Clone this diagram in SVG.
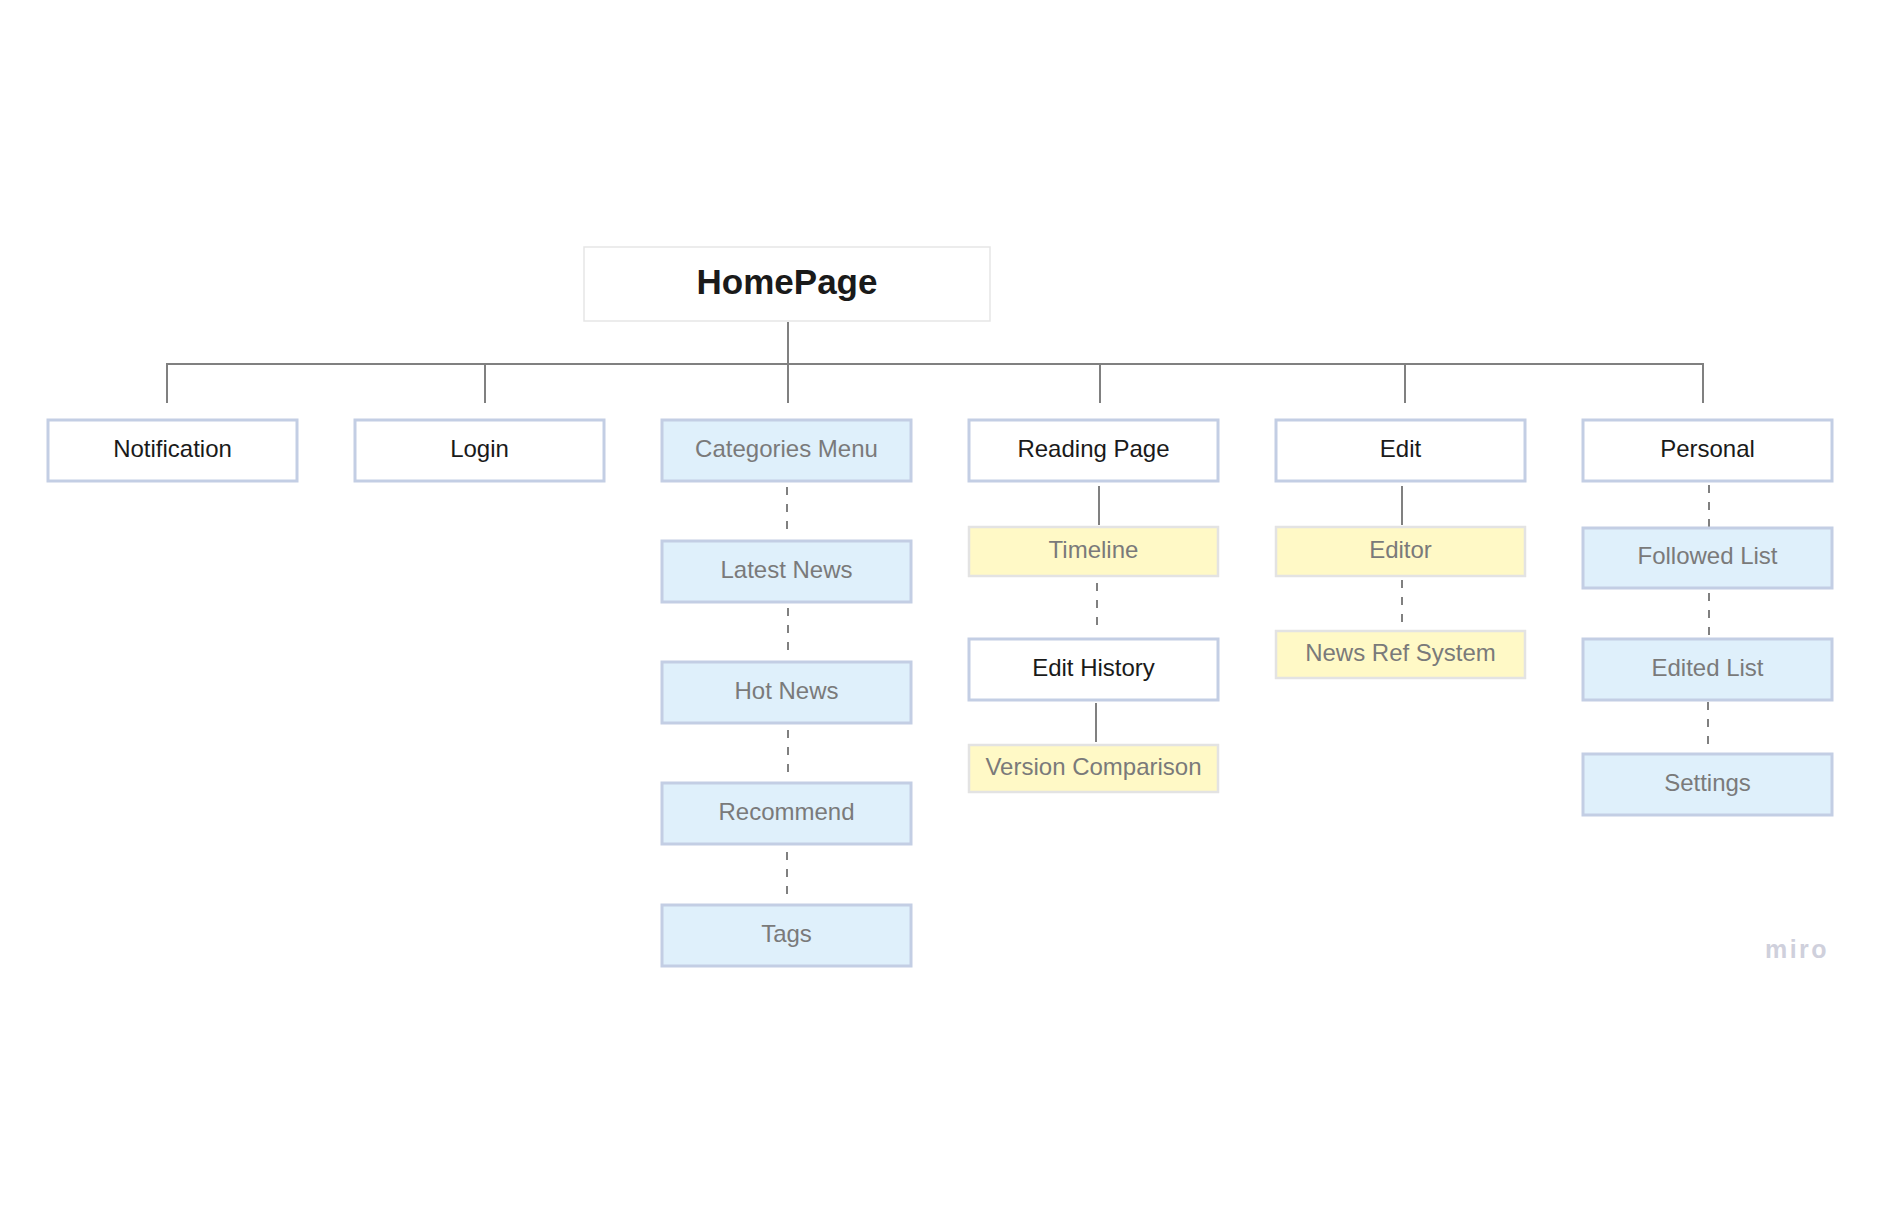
<svg xmlns="http://www.w3.org/2000/svg" width="1880" height="1210" viewBox="0 0 1880 1210">
  <style>
    .lbl { font-family: "Liberation Sans", Arial, sans-serif; font-size: 24px; text-anchor: middle; }
    .dark { fill: #1a1a1a; }
    .muted { fill: #7a7a7a; }
    .box-white { fill: #ffffff; stroke: #c3cee4; stroke-width: 3; }
    .box-blue { fill: #dff0fb; stroke: #c3cee4; stroke-width: 3; }
    .box-yellow { fill: #fff9c6; stroke: #e3e3e3; stroke-width: 2.5; }
    .solid { stroke: #808080; stroke-width: 2; fill: none; }
    .dash { stroke: #808080; stroke-width: 2; fill: none; stroke-dasharray: 8 9; }
  </style>
  <rect width="1880" height="1210" fill="#ffffff"/>

  <!-- tree connectors -->
  <g id="connectors">
    <line class="solid" x1="788" y1="322" x2="788" y2="364"/>
    <line class="solid" x1="167" y1="364" x2="1703" y2="364"/>
    <line class="solid" x1="167" y1="363" x2="167" y2="403"/>
    <line class="solid" x1="485" y1="364" x2="485" y2="403"/>
    <line class="solid" x1="788" y1="364" x2="788" y2="403"/>
    <line class="solid" x1="1100" y1="364" x2="1100" y2="403"/>
    <line class="solid" x1="1405" y1="364" x2="1405" y2="403"/>
    <line class="solid" x1="1703" y1="363" x2="1703" y2="403"/>

    <!-- Categories Menu chain -->
    <line class="dash" x1="787" y1="487" x2="787" y2="532"/>
    <line class="dash" x1="788" y1="608" x2="788" y2="653"/>
    <line class="dash" x1="788" y1="730" x2="788" y2="775"/>
    <line class="dash" x1="787" y1="852" x2="787" y2="897"/>

    <!-- Reading Page chain -->
    <line class="solid" x1="1099" y1="486" x2="1099" y2="525"/>
    <line class="dash" x1="1097" y1="583" x2="1097" y2="628"/>
    <line class="solid" x1="1096" y1="703" x2="1096" y2="742"/>

    <!-- Edit chain -->
    <line class="solid" x1="1402" y1="486" x2="1402" y2="525"/>
    <line class="dash" x1="1402" y1="580" x2="1402" y2="624"/>

    <!-- Personal chain -->
    <line class="dash" x1="1709" y1="485" x2="1709" y2="528"/>
    <line class="dash" x1="1709" y1="593" x2="1709" y2="637"/>
    <line class="dash" x1="1708" y1="702" x2="1708" y2="746"/>
  </g>

  <!-- root -->
  <g id="homepage">
    <rect x="584" y="247" width="406" height="74" fill="#ffffff" stroke="#e6e6e6" stroke-width="1.5"/>
    <text x="787" y="294" font-family="Liberation Sans, Arial, sans-serif" font-size="35" font-weight="bold" text-anchor="middle" fill="#1a1a1a">HomePage</text>
  </g>

  <!-- first level -->
  <g id="notification">
    <rect class="box-white" x="48" y="420" width="249" height="61"/>
    <text class="lbl dark" x="172.5" y="457">Notification</text>
  </g>
  <g id="login">
    <rect class="box-white" x="355" y="420" width="249" height="61"/>
    <text class="lbl dark" x="479.5" y="457">Login</text>
  </g>
  <g id="categories-menu">
    <rect class="box-blue" x="662" y="420" width="249" height="61"/>
    <text class="lbl muted" x="786.5" y="457">Categories Menu</text>
  </g>
  <g id="reading-page">
    <rect class="box-white" x="969" y="420" width="249" height="61"/>
    <text class="lbl dark" x="1093.5" y="457">Reading Page</text>
  </g>
  <g id="edit">
    <rect class="box-white" x="1276" y="420" width="249" height="61"/>
    <text class="lbl dark" x="1400.5" y="457">Edit</text>
  </g>
  <g id="personal">
    <rect class="box-white" x="1583" y="420" width="249" height="61"/>
    <text class="lbl dark" x="1707.5" y="457">Personal</text>
  </g>

  <!-- Categories Menu children -->
  <g id="latest-news">
    <rect class="box-blue" x="662" y="541" width="249" height="61"/>
    <text class="lbl muted" x="786.5" y="578">Latest News</text>
  </g>
  <g id="hot-news">
    <rect class="box-blue" x="662" y="662" width="249" height="61"/>
    <text class="lbl muted" x="786.5" y="699">Hot News</text>
  </g>
  <g id="recommend">
    <rect class="box-blue" x="662" y="783" width="249" height="61"/>
    <text class="lbl muted" x="786.5" y="820">Recommend</text>
  </g>
  <g id="tags">
    <rect class="box-blue" x="662" y="905" width="249" height="61"/>
    <text class="lbl muted" x="786.5" y="942">Tags</text>
  </g>

  <!-- Reading Page children -->
  <g id="timeline">
    <rect class="box-yellow" x="969" y="527" width="249" height="49"/>
    <text class="lbl muted" x="1093.5" y="558">Timeline</text>
  </g>
  <g id="edit-history">
    <rect class="box-white" x="969" y="639" width="249" height="61"/>
    <text class="lbl dark" x="1093.5" y="676">Edit History</text>
  </g>
  <g id="version-comparison">
    <rect class="box-yellow" x="969" y="745" width="249" height="47"/>
    <text class="lbl muted" x="1093.5" y="775">Version Comparison</text>
  </g>

  <!-- Edit children -->
  <g id="editor">
    <rect class="box-yellow" x="1276" y="527" width="249" height="49"/>
    <text class="lbl muted" x="1400.5" y="558">Editor</text>
  </g>
  <g id="news-ref-system">
    <rect class="box-yellow" x="1276" y="631" width="249" height="47"/>
    <text class="lbl muted" x="1400.5" y="661">News Ref System</text>
  </g>

  <!-- Personal children -->
  <g id="followed-list">
    <rect class="box-blue" x="1583" y="528" width="249" height="60"/>
    <text class="lbl muted" x="1707.5" y="564">Followed List</text>
  </g>
  <g id="edited-list">
    <rect class="box-blue" x="1583" y="639" width="249" height="61"/>
    <text class="lbl muted" x="1707.5" y="676">Edited List</text>
  </g>
  <g id="settings">
    <rect class="box-blue" x="1583" y="754" width="249" height="61"/>
    <text class="lbl muted" x="1707.5" y="791">Settings</text>
  </g>

  <!-- board watermark -->
  <text x="1797" y="958" font-family="Liberation Sans, Arial, sans-serif" font-size="25" font-weight="bold" letter-spacing="2.5" text-anchor="middle" fill="#cfd0dc">miro</text>
</svg>
